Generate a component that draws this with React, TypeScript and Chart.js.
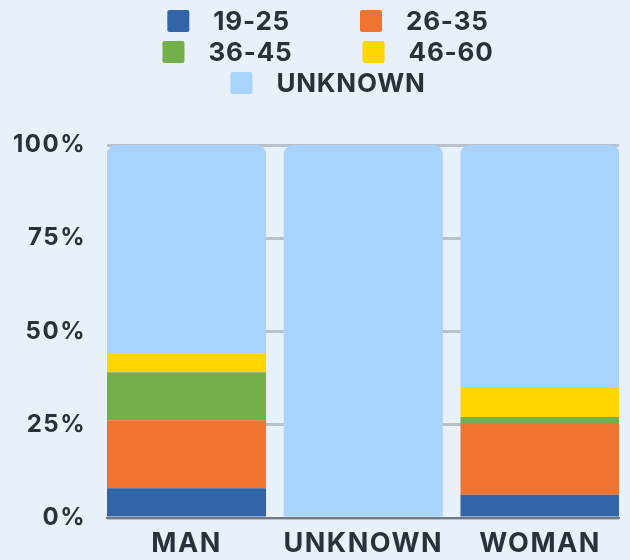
import React, { useEffect, useRef } from 'react';
import { Chart, registerables } from 'chart.js';

Chart.register(...registerables);

// ---- data ----
const CATEGORIES = ['MAN', 'UNKNOWN', 'WOMAN'];
const SERIES_LABELS = ['19-25', '26-35', '36-45', '46-60', 'UNKNOWN'];
const AGE_19_25 = [8.0, 0, 6.2];
const AGE_26_35 = [18.2, 0, 19.0];
const AGE_36_45 = [12.9, 0, 1.9];
const AGE_46_60 = [5.1, 0, 8.0];
const AGE_UNKNOWN = [55.8, 100, 64.9];
const Y_MIN = 0;
const Y_MAX = 100;
const Y_STEP = 25;

// ---- styles ----
const SERIES_COLORS = ['#3165A7', '#EF7430', '#74B049', '#FFD600', '#A8D3FD'];
const BG = '#E8F0FA';
const TEXT = '#29313B';
const GRID = '#B8C0CB';
const AXIS = '#727983';
const FONT_FAMILY = 'Inter, "DejaVu Sans", sans-serif';
const LETTER_SPACING = '1.5px';
const LEGEND_LETTER_SPACING = '0.8px';

const W = 630;
const H = 560;

const bgPlugin = {
  id: 'bgFill',
  beforeUpdate(chart: any) {
    chart.ctx.letterSpacing = LETTER_SPACING;
  },
  beforeDraw(chart: any) {
    const ctx = chart.ctx;
    ctx.letterSpacing = LETTER_SPACING;
    ctx.save();
    ctx.fillStyle = BG;
    ctx.fillRect(0, 0, chart.width, chart.height);
    ctx.restore();
  },
};

const LEGEND_CX = 328;
const LEGEND_TOP = 21;
const LEGEND_ROW = 31;
const LEGEND_BOX = 22;
const LEGEND_BOX_GAP = 24;
const LEGEND_ITEM_GAP = 70;
const LEGEND_ROWS = [[0, 1], [2, 3], [4]];

const legendPlugin = {
  id: 'gridLegend',
  afterDraw(chart: any) {
    const ctx = chart.ctx;
    ctx.save();
    ctx.letterSpacing = LEGEND_LETTER_SPACING;
    ctx.font = `700 26px ${FONT_FAMILY}`;
    ctx.textBaseline = 'middle';
    ctx.textAlign = 'left';
    const ds = chart.data.datasets;
    LEGEND_ROWS.forEach((row, r) => {
      const cy = LEGEND_TOP + r * LEGEND_ROW;
      const widths = row.map(
        (i) => LEGEND_BOX + LEGEND_BOX_GAP + ctx.measureText(ds[i].label).width
      );
      const total = widths.reduce((a, b) => a + b, 0) + LEGEND_ITEM_GAP * (row.length - 1);
      let x = LEGEND_CX - total / 2;
      row.forEach((i, k) => {
        ctx.fillStyle = ds[i].backgroundColor;
        ctx.beginPath();
        ctx.roundRect(x, cy - LEGEND_BOX / 2, LEGEND_BOX, LEGEND_BOX, 2);
        ctx.fill();
        ctx.fillStyle = TEXT;
        ctx.fillText(ds[i].label, x + LEGEND_BOX + LEGEND_BOX_GAP, cy + 1);
        x += widths[k] + LEGEND_ITEM_GAP;
      });
    });
    ctx.restore();
  },
};

export default function App() {
  const ref = useRef<HTMLCanvasElement | null>(null);

  useEffect(() => {
    if (!ref.current) return;
    const series = [AGE_19_25, AGE_26_35, AGE_36_45, AGE_46_60, AGE_UNKNOWN];
    const datasets = series.map((vals, s) => ({
      label: SERIES_LABELS[s],
      data: vals.map((v, i) => ({ x: i, y: v })),
      backgroundColor: SERIES_COLORS[s],
      borderWidth: 0,
      borderRadius:
        s === series.length - 1
          ? { topLeft: 9, topRight: 9, bottomLeft: 0, bottomRight: 0 }
          : 0,
      borderSkipped: false as any,
      categoryPercentage: 1,
      barPercentage: 0.9,
    }));

    const chart = new Chart(ref.current, {
      type: 'bar',
      data: { datasets },
      plugins: [bgPlugin, legendPlugin],
      options: {
        animation: false,
        responsive: false,
        maintainAspectRatio: false,
        layout: { padding: { top: 145, left: 0, right: 11, bottom: 0 } },
        plugins: {
          legend: { display: false },
          tooltip: { enabled: false },
        },
        scales: {
          x: {
            type: 'linear',
            stacked: true,
            offset: false,
            min: -0.45,
            max: 2.447,
            grid: { display: false, drawTicks: false, offset: false },
            border: { display: true, color: AXIS, width: 2, z: 1 },
            afterBuildTicks: (s: any) => {
              s.ticks = CATEGORIES.map((_, i) => ({ value: i }));
            },
            afterFit: (s: any) => {
              s.height = 42;
            },
            ticks: {
              autoSkip: false,
              maxRotation: 0,
              padding: 10,
              color: TEXT,
              font: { family: FONT_FAMILY, size: 27, weight: 'bold' },
              callback: (v: any) => CATEGORIES[v as number] ?? '',
            },
          },
          y: {
            stacked: true,
            min: Y_MIN,
            max: Y_MAX,
            grid: { color: GRID, lineWidth: 3, drawTicks: false },
            border: { display: false },
            afterFit: (s: any) => {
              s.width = 107;
            },
            ticks: {
              stepSize: Y_STEP,
              padding: 21,
              color: TEXT,
              font: { family: FONT_FAMILY, size: 24, weight: 'bold' },
              callback: (v: any) => `${v}%`,
            },
          },
        },
      } as any,
    });
    return () => chart.destroy();
  }, []);

  return (
    <div style={{ position: 'fixed', left: 0, top: 0, width: W, height: H, background: BG }}>
      <canvas ref={ref} width={W} height={H} style={{ display: 'block', width: W, height: H }} />
    </div>
  );
}
